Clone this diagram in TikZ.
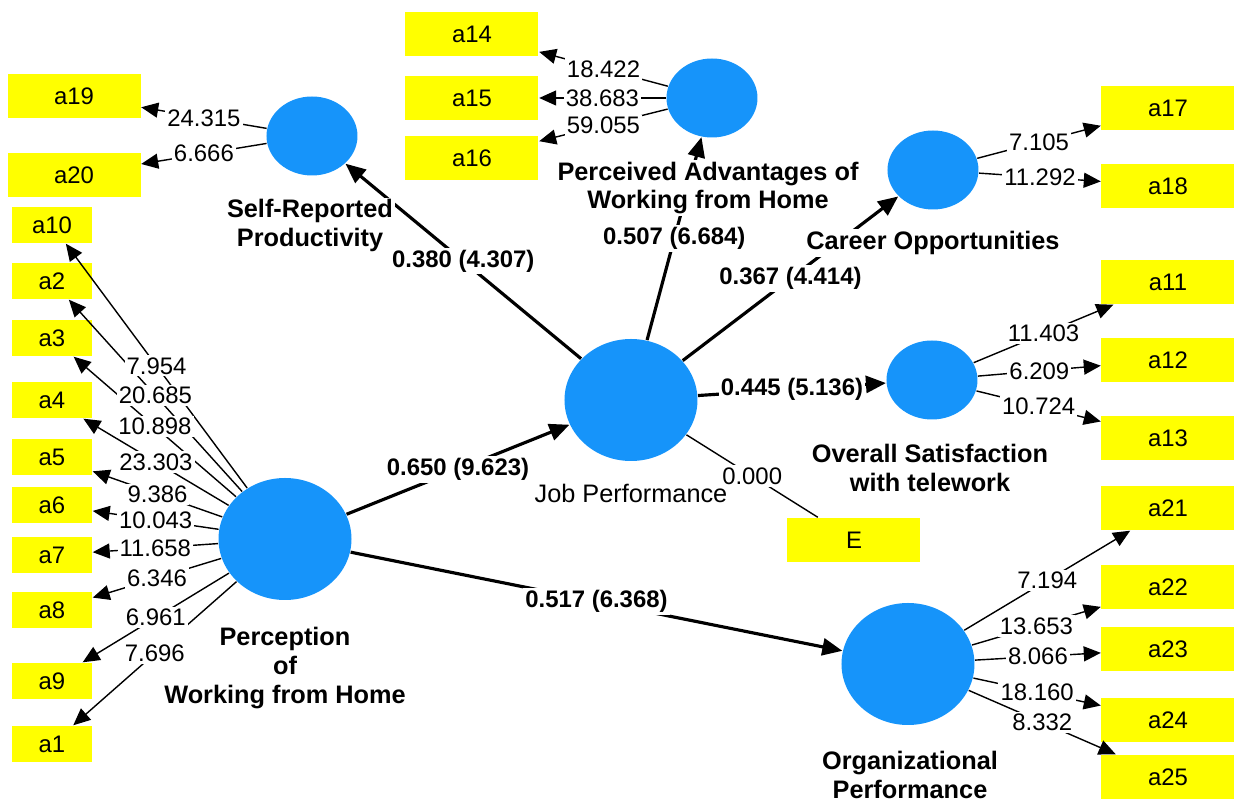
\documentclass[tikz,border=0pt]{standalone}
\usepackage{fontspec}
\setmainfont{Liberation Sans}
\usetikzlibrary{arrows.meta,shapes.geometric}

\definecolor{lvblue}{RGB}{22,148,250}
\definecolor{indyellow}{RGB}{255,255,0}

\tikzset{
  lvsmall/.style={ellipse, fill=lvblue, inner sep=0pt, minimum width=0.91cm, minimum height=0.79cm},
  lvbig/.style={ellipse, fill=lvblue, inner sep=0pt, minimum width=1.33cm, minimum height=1.22cm},
  ind/.style={rectangle, fill=indyellow, inner sep=0pt, minimum width=1.33cm, minimum height=0.44cm, font=\fontsize{6.8}{8}\selectfont},
  indsmall/.style={ind, minimum width=0.80cm, minimum height=0.36cm},
  lvname/.style={align=center, fill=white, inner sep=0.5pt, font=\fontsize{7.2}{8.2}\selectfont\bfseries},
  load/.style={line width=0.4pt, -{Triangle[length=1.7mm,width=1.5mm]}},
  coef/.style={line width=0.9pt, -{Triangle[length=2.0mm,width=1.7mm]}},
  loadval/.style={fill=white, inner sep=0.6pt, font=\fontsize{6.8}{8}\selectfont},
  coefval/.style={fill=white, inner sep=0.6pt, font=\fontsize{6.8}{8}\selectfont\bfseries},
}

\begin{document}
\begin{tikzpicture}
    \useasboundingbox (0,0) rectangle (12.34,-8.00);

    % 潜在変数
    \node[lvsmall] (SRP) at (3.12,-1.36) {};
    \node[lvsmall] (PAWH) at (7.12,-0.98) {};
    \node[lvsmall] (CO) at (9.33,-1.70) {};
    \node[lvsmall] (OS) at (9.32,-3.80) {};
    \node[lvbig] (JP) at (6.31,-4.00) {};
    \node[lvbig] (PWH) at (2.85,-5.39) {};
    \node[lvbig] (OP) at (9.08,-6.64) {};

    % 指標
    \node[ind] (a19) at (0.74,-0.96) {a19};
    \node[ind] (a20) at (0.74,-1.75) {a20};
    \node[ind] (a14) at (4.72,-0.34) {a14};
    \node[ind] (a15) at (4.72,-0.98) {a15};
    \node[ind] (a16) at (4.72,-1.58) {a16};
    \node[ind] (a17) at (11.68,-1.08) {a17};
    \node[ind] (a18) at (11.68,-1.86) {a18};
    \node[ind] (a11) at (11.68,-2.82) {a11};
    \node[ind] (a12) at (11.68,-3.60) {a12};
    \node[ind] (a13) at (11.68,-4.38) {a13};
    \node[ind] (a21) at (11.68,-5.08) {a21};
    \node[ind] (a22) at (11.68,-5.87) {a22};
    \node[ind] (a23) at (11.68,-6.49) {a23};
    \node[ind] (a24) at (11.68,-7.20) {a24};
    \node[ind] (a25) at (11.68,-7.77) {a25};
    \node[ind] (E) at (8.54,-5.40) {E};
    \node[indsmall] (a10) at (0.52,-2.25) {a10};
    \node[indsmall] (a2) at (0.52,-2.81) {a2};
    \node[indsmall] (a3) at (0.52,-3.38) {a3};
    \node[indsmall] (a4) at (0.52,-4.00) {a4};
    \node[indsmall] (a5) at (0.52,-4.57) {a5};
    \node[indsmall] (a6) at (0.52,-5.05) {a6};
    \node[indsmall] (a7) at (0.52,-5.55) {a7};
    \node[indsmall] (a8) at (0.52,-6.10) {a8};
    \node[indsmall] (a9) at (0.52,-6.81) {a9};
    \node[indsmall] (a1) at (0.52,-7.44) {a1};

    % 構造モデルのパス
    \draw[coef] (PWH) -- (JP);
    \draw[coef] (PWH) -- (OP);
    \draw[coef] (JP) -- (SRP);
    \draw[coef] (JP) -- (PAWH);
    \draw[coef] (JP) -- (CO);
    \draw[coef] (JP) -- (OS);
    \draw[line width=0.4pt] (JP) -- (E);

    % 外側モデル(負荷量)
    \draw[load] (SRP) -- (a19);
    \draw[load] (SRP) -- (a20);
    \draw[load] (PAWH) -- (a14);
    \draw[load] (PAWH) -- (a15);
    \draw[load] (PAWH) -- (a16);
    \draw[load] (CO) -- (a17);
    \draw[load] (CO) -- (a18);
    \draw[load] (OS) -- (a11);
    \draw[load] (OS) -- (a12);
    \draw[load] (OS) -- (a13);
    \draw[load] (OP) -- (a21);
    \draw[load] (OP) -- (a22);
    \draw[load] (OP) -- (a23);
    \draw[load] (OP) -- (a24);
    \draw[load] (OP) -- (a25);
    \draw[load] (PWH) -- (a10);
    \draw[load] (PWH) -- (a2);
    \draw[load] (PWH) -- (a3);
    \draw[load] (PWH) -- (a4);
    \draw[load] (PWH) -- (a5);
    \draw[load] (PWH) -- (a6);
    \draw[load] (PWH) -- (a7);
    \draw[load] (PWH) -- (a8);
    \draw[load] (PWH) -- (a9);
    \draw[load] (PWH) -- (a1);

    % 潜在変数の名前(線の上に重ねる)
    \node[lvname] (SRPname) at (3.10,-2.255) {Self-Reported\\Productivity};
    \node[lvname] (PAWHname) at (7.08,-1.88) {Perceived Advantages of\\Working from Home};
    \node[lvname] (COname) at (9.33,-2.43) {Career Opportunities};
    \node[lvname] (OSname) at (9.30,-4.68) {Overall Satisfaction\\with telework};
    \node[lvname, font=\fontsize{7.2}{8.2}\selectfont] (JPname) at (6.31,-4.93) {Job Performance};
    \node[lvname] (PWHname) at (2.85,-6.68) {Perception\\of\\Working from Home};
    \node[lvname] (OPname) at (9.10,-7.75) {Organizational\\Performance};

    % パス係数 (t値)
    \path (PWH) -- node[coefval] {0.650 (9.623)} (JP);
    \path (PWH) -- node[coefval] {0.517 (6.368)} (OP);
    \path (JP) -- node[coefval] {0.380 (4.307)} (SRP);
    \path (JP) -- node[coefval] {0.507 (6.684)} (PAWH);
    \path (JP) -- node[coefval] {0.367 (4.414)} (CO);
    \path (JP) -- node[coefval] {0.445 (5.136)} (OS);
    \path (JP) -- node[loadval] {0.000} (E);

    % 負荷量の t値
    \path (SRP) -- node[loadval] {24.315} (a19);
    \path (SRP) -- node[loadval] {6.666} (a20);
    \path (PAWH) -- node[loadval] {18.422} (a14);
    \path (PAWH) -- node[loadval] {38.683} (a15);
    \path (PAWH) -- node[loadval] {59.055} (a16);
    \path (CO) -- node[loadval] {7.105} (a17);
    \path (CO) -- node[loadval] {11.292} (a18);
    \path (OS) -- node[loadval] {11.403} (a11);
    \path (OS) -- node[loadval] {6.209} (a12);
    \path (OS) -- node[loadval] {10.724} (a13);
    \path (OP) -- node[loadval] {7.194} (a21);
    \path (OP) -- node[loadval] {13.653} (a22);
    \path (OP) -- node[loadval] {8.066} (a23);
    \path (OP) -- node[loadval] {18.160} (a24);
    \path (OP) -- node[loadval] {8.332} (a25);
    \path (PWH) -- node[loadval] {7.954} (a10);
    \path (PWH) -- node[loadval] {20.685} (a2);
    \path (PWH) -- node[loadval] {10.898} (a3);
    \path (PWH) -- node[loadval] {23.303} (a4);
    \path (PWH) -- node[loadval] {9.386} (a5);
    \path (PWH) -- node[loadval] {10.043} (a6);
    \path (PWH) -- node[loadval] {11.658} (a7);
    \path (PWH) -- node[loadval] {6.346} (a8);
    \path (PWH) -- node[loadval] {6.961} (a9);
    \path (PWH) -- node[loadval] {7.696} (a1);
\end{tikzpicture}
\end{document}
